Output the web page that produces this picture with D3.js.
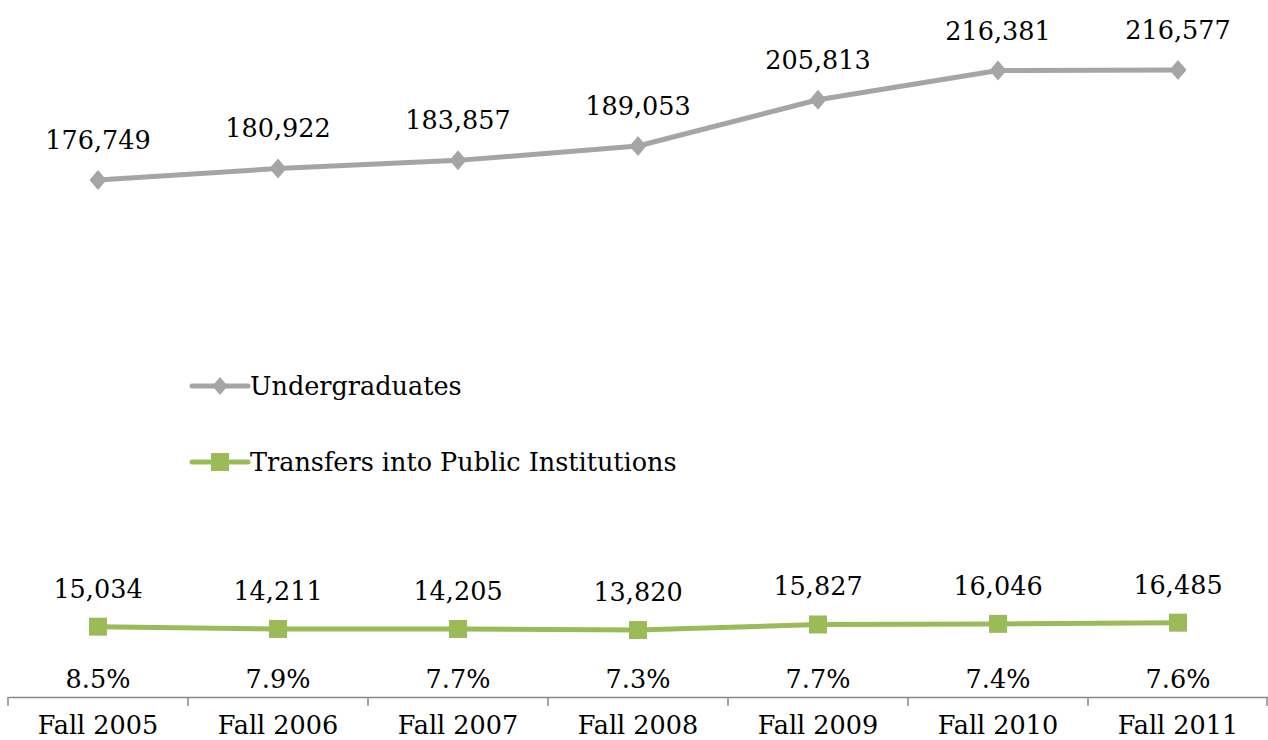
<!DOCTYPE html>
<html>
<head>
<meta charset="utf-8">
<script src="https://cdn.jsdelivr.net/npm/d3@7"></script>
<style>
  html, body { margin: 0; padding: 0; background: #fff; }
  svg { display: block; }
  text { font-family: "DejaVu Serif", serif; fill: #000; }
</style>
</head>
<body>
<svg id="chart" width="1268" height="740"></svg>
<script>
const categories = ["Fall 2005", "Fall 2006", "Fall 2007", "Fall 2008", "Fall 2009", "Fall 2010", "Fall 2011"];
const undergraduates = [176749, 180922, 183857, 189053, 205813, 216381, 216577];
const transfers = [15034, 14211, 14205, 13820, 15827, 16046, 16485];
const percentLabels = ["8.5%", "7.9%", "7.7%", "7.3%", "7.7%", "7.4%", "7.6%"];
const seriesNames = ["Undergraduates", "Transfers into Public Institutions"];

const svg = d3.select("#chart");
const fontSize = 25.5;
const grey = "#A5A5A5", green = "#9BBB59";

const x = d3.scaleBand().domain(categories).range([8, 1268]).padding(0);
const y = d3.scaleLinear().domain([0, 240000]).range([668.2, 5.3]);
const cx = c => x(c) + x.bandwidth() / 2;

// axis
const axisY = 697;
const axis = d3.axisBottom(x).tickSize(0).tickPadding(0).tickFormat("");
const ag = svg.append("g").attr("transform", `translate(0,${axisY})`).call(axis);
ag.select(".domain").attr("stroke", "#898989").attr("stroke-width", 1.5);
const boundaries = categories.map(c => x(c)).concat([x(categories[categories.length - 1]) + x.bandwidth()]);
svg.append("g").selectAll("line").data(boundaries).join("line")
  .attr("x1", d => Math.min(d, 1267)).attr("x2", d => Math.min(d, 1267))
  .attr("y1", axisY).attr("y2", axisY + 9)
  .attr("stroke", "#898989").attr("stroke-width", 1.5);
svg.append("g").selectAll("text").data(categories).join("text")
  .attr("x", d => cx(d)).attr("y", 734)
  .attr("text-anchor", "middle").attr("font-size", fontSize)
  .text(d => d);

// lines
const line = d3.line().x((d, i) => cx(categories[i])).y(d => y(d));
svg.append("path").datum(undergraduates).attr("d", line)
  .attr("fill", "none").attr("stroke", grey).attr("stroke-width", 5).attr("stroke-linejoin", "round");
svg.append("path").datum(transfers).attr("d", line)
  .attr("fill", "none").attr("stroke", green).attr("stroke-width", 5).attr("stroke-linejoin", "round");

// markers
const diamond = (px, py, r) => `M${px},${py - r}L${px + r * 0.85},${py}L${px},${py + r}L${px - r * 0.85},${py}Z`;
svg.append("g").selectAll("path").data(undergraduates).join("path")
  .attr("d", (d, i) => diamond(cx(categories[i]), y(d), 10))
  .attr("fill", grey);
const sq = 18;
svg.append("g").selectAll("rect").data(transfers).join("rect")
  .attr("x", (d, i) => cx(categories[i]) - sq / 2).attr("y", d => y(d) - sq / 2)
  .attr("width", sq).attr("height", sq).attr("fill", green);

// value labels
const fmt = d3.format(",");
svg.append("g").selectAll("text").data(undergraduates).join("text")
  .attr("x", (d, i) => cx(categories[i])).attr("y", d => y(d) - 31)
  .attr("text-anchor", "middle").attr("font-size", fontSize)
  .text(d => fmt(d));
svg.append("g").selectAll("text").data(transfers).join("text")
  .attr("x", (d, i) => cx(categories[i])).attr("y", d => y(d) - 29)
  .attr("text-anchor", "middle").attr("font-size", fontSize)
  .text(d => fmt(d));
svg.append("g").selectAll("text").data(percentLabels).join("text")
  .attr("x", (d, i) => cx(categories[i])).attr("y", 688)
  .attr("text-anchor", "middle").attr("font-size", fontSize)
  .text(d => d);

// legend
const legend = [
  { name: seriesNames[0], color: grey, shape: "diamond", y: 386 },
  { name: seriesNames[1], color: green, shape: "square", y: 462 }
];
legend.forEach(l => {
  svg.append("line").attr("x1", 192).attr("x2", 248).attr("y1", l.y).attr("y2", l.y)
    .attr("stroke", l.color).attr("stroke-width", 5).attr("stroke-linecap", "round");
  if (l.shape === "diamond") {
    svg.append("path").attr("d", diamond(220, l.y, 9)).attr("fill", l.color);
  } else {
    svg.append("rect").attr("x", 220 - 9).attr("y", l.y - 9).attr("width", 18).attr("height", 18).attr("fill", l.color);
  }
  svg.append("text").attr("x", 250).attr("y", l.y + 9).attr("font-size", fontSize).text(l.name);
});
</script>
</body>
</html>
